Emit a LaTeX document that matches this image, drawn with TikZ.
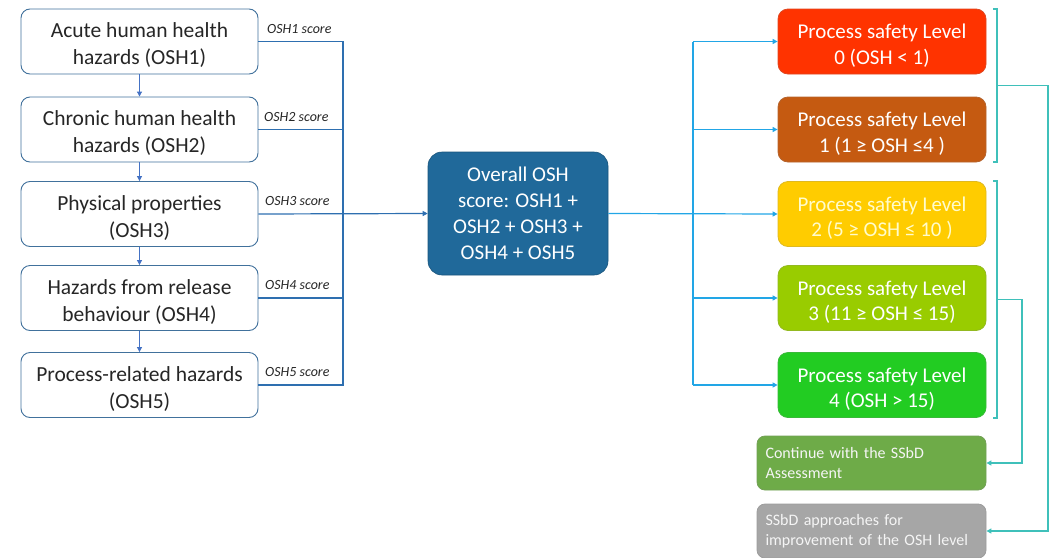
\documentclass[tikz,border=0pt]{standalone}
\usepackage{fontspec}
\setmainfont{Carlito}
\usetikzlibrary{arrows.meta}
\definecolor{boxedge}{HTML}{41719C}
\definecolor{txt}{HTML}{262626}
\definecolor{downarr}{HTML}{4472C4}
\definecolor{busline}{HTML}{2E6FB0}
\definecolor{ovfill}{HTML}{20699A}
\definecolor{fanline}{HTML}{22A6E6}
\definecolor{brk}{HTML}{3FC0BA}
\definecolor{lv0}{HTML}{FF3300}
\definecolor{lv1}{HTML}{C55A11}
\definecolor{lv2}{HTML}{FFCC00}
\definecolor{lv3}{HTML}{99CC00}
\definecolor{lv4}{HTML}{22CC22}
\definecolor{cont}{HTML}{6EAB48}
\definecolor{impr}{HTML}{A6A6A6}
\tikzset{
  hazbox/.style={draw=boxedge, line width=0.9pt, rounded corners=9pt, fill=white,
    minimum width=237pt, minimum height=65pt},
  haztext/.style={align=center, text=txt, yshift=-4pt, inner sep=0pt,
    font=\fontsize{21.5}{27}\selectfont},
  lvlbox/.style={draw=#1!75!gray, line width=0.8pt, rounded corners=10pt, fill=#1,
    minimum width=208pt, minimum height=65pt},
  lvltext/.style={align=center, text=white, yshift=-4pt, inner sep=0pt,
    font=\fontsize{21}{25.5}\selectfont},
  outbox/.style={draw=#1!75!gray, line width=0.8pt, rounded corners=8pt, fill=#1,
    minimum width=229pt, minimum height=54pt, text width=212pt, align=left, text=white!92!gray,
    font=\fontsize{16}{20}\selectfont},
  score/.style={font=\fontsize{14}{15}\selectfont\itshape, text=txt, anchor=east},
  downlink/.style={draw=downarr, line width=1pt, -{Triangle[length=5pt,width=5pt]}},
  bus/.style={draw=busline, line width=1.2pt},
  fan/.style={draw=fanline, line width=1.2pt},
  fanarr/.style={fan, -{Triangle[length=5pt,width=5pt]}},
  brace/.style={draw=brk, line width=1.2pt},
  bracearr/.style={brace, -{Triangle[length=5pt,width=5pt]}},
}
\begin{document}
\begin{tikzpicture}[x=1pt,y=-1pt]
\useasboundingbox (0,0) rectangle (1051,557);

% hazard categories
\node[hazbox, label={[haztext]center:{Acute human health\\hazards (OSH1)}}] (h1) at (139.5,41.5) {};
\node[hazbox, label={[haztext]center:{Chronic human health\\hazards (OSH2)}}] (h2) at (139.5,129.5) {};
\node[hazbox, label={[haztext]center:{Physical properties\\(OSH3)}}] (h3) at (139.5,214) {};
\node[hazbox, label={[haztext]center:{Hazards from release\\behaviour (OSH4)}}] (h4) at (139.5,298) {};
\node[hazbox, label={[haztext]center:{Process-related hazards\\(OSH5)}}] (h5) at (139.5,385) {};

\foreach \a/\b in {h1/h2,h2/h3,h3/h4,h4/h5}
  \draw[downlink] (\a.south) -- (\b.north);

% overall score
\node[draw=ovfill!80!black, line width=0.6pt, fill=ovfill, rounded corners=14pt,
      minimum width=180pt, minimum height=123pt, align=center, text=white,
      font=\fontsize{21}{26}\selectfont] (ov) at (518,213.5)
  {Overall OSH\\score: OSH1 +\\OSH2 + OSH3 +\\OSH4 + OSH5};

% score collection bus
\coordinate (b1) at (343,41.5);
\coordinate (b2) at (343,129.5);
\coordinate (b4) at (343,298);
\coordinate (b5) at (343,385);
\draw[bus] (h1.east) -- (b1) -- (b5) -- (h5.east);
\draw[bus] (h2.east) -- (b2);
\draw[bus] (h4.east) -- (b4);
\draw[bus, -{Triangle[length=5pt,width=5pt]}] (h3.east) -- (ov.west);

\node[score] at (335,29) {OSH1 score};
\node[score] at (332,117) {OSH2 score};
\node[score] at (333,201) {OSH3 score};
\node[score] at (333,285) {OSH4 score};
\node[score] at (333,372) {OSH5 score};

% process safety levels
\node[lvlbox=lv0, label={[lvltext]center:{Process safety Level\\0 (OSH < 1)}}] (r0) at (882,41.5) {};
\node[lvlbox=lv1, label={[lvltext]center:{Process safety Level\\1 (1 ≥ OSH ≤4 )}}] (r1) at (882,129.5) {};
\node[lvlbox=lv2, label={[lvltext, text=yellow!20!white]center:{Process safety Level\\2 (5 ≥ OSH ≤ 10 )}}] (r2) at (882,214) {};
\node[lvlbox=lv3, label={[lvltext]center:{Process safety Level\\3 (11 ≥ OSH ≤ 15)}}] (r3) at (882,298) {};
\node[lvlbox=lv4, label={[lvltext]center:{Process safety Level\\4 (OSH > 15)}}] (r4) at (882,385) {};

\coordinate (f0) at (693,41.5);
\coordinate (f4) at (693,385);
\draw[fanarr] (ov.east) -- (r2.west);
\draw[fan] (f0) -- (f4);
\foreach \r in {r0,r1,r3,r4}
  \draw[fanarr] (f0 |- \r.west) -- (\r.west);

% outcomes
\node[outbox=cont] (c) at (871.5,463) {Continue with the SSbD\\Assessment};
\node[outbox=impr] (s) at (871.5,531) {SSbD approaches for\\improvement of the OSH level};

% grouping brackets
\coordinate (ka) at (997,9);
\coordinate (kb) at (997,162);
\coordinate (kc) at (997,181);
\coordinate (kd) at (997,418);
\draw[brace] (993,9) -- (ka) -- (kb) -- (993,162);
\draw[brace] (993,181) -- (kc) -- (kd) -- (993,418);
\coordinate (m1) at (1048,85.5);
\coordinate (m2) at (1022,299.5);
\draw[bracearr] (997,85.5) -- (m1) |- (s.east);
\draw[bracearr] (997,299.5) -- (m2) |- (c.east);
\end{tikzpicture}
\end{document}
